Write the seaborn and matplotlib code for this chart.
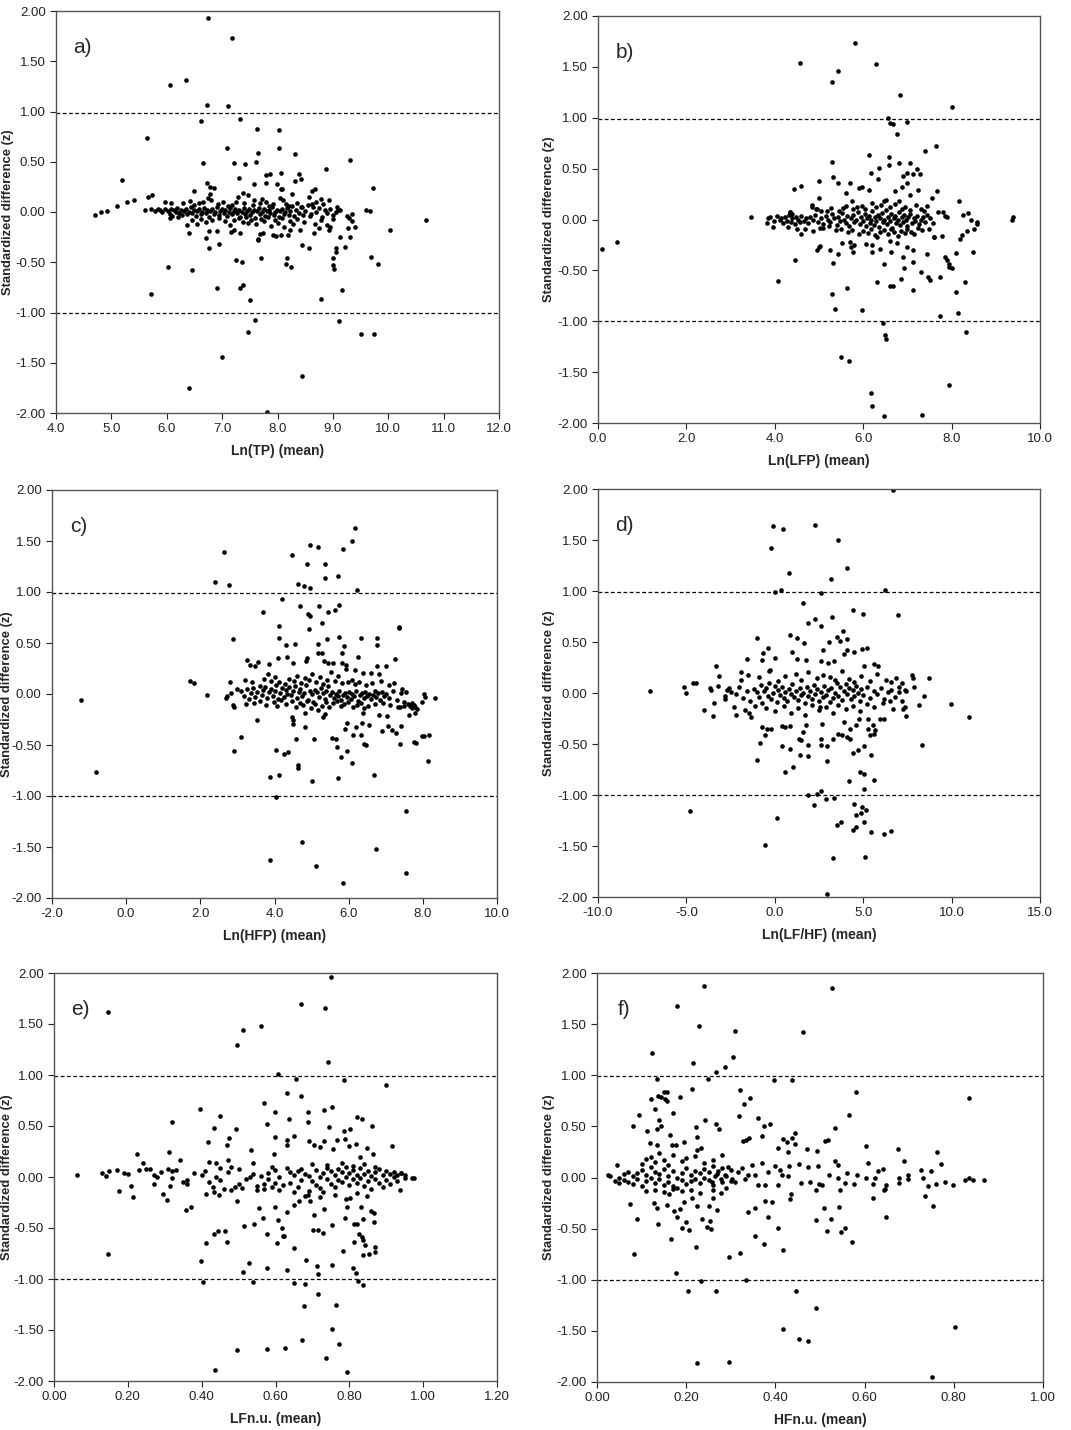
import numpy as np
import pandas as pd
import matplotlib
matplotlib.use("Agg")
import matplotlib.pyplot as plt
import seaborn as sns
from matplotlib.ticker import FormatStrFormatter

# ---- panel a: Ln(TP) ----
a_pts = [
    (6.75, 1.93), (7.18, 1.73), (6.35, 1.31), (6.05, 1.26), (6.73, 1.06), (7.10, 1.05), (7.32, 0.93),
    (6.61, 0.91), (5.64, 0.74), (7.63, 0.83), (8.03, 0.82), (7.08, 0.64), (8.03, 0.64), (7.65, 0.59),
    (8.32, 0.58), (9.31, 0.52), (6.66, 0.49), (7.21, 0.49), (7.41, 0.48), (7.62, 0.50), (8.87, 0.43),
    (5.20, 0.32), (8.06, 0.39), (8.39, 0.38), (7.79, 0.37), (7.87, 0.38), (7.31, 0.34), (8.31, 0.31),
    (8.42, 0.33), (6.72, 0.29), (7.57, 0.28), (7.80, 0.29), (7.99, 0.28), (9.73, 0.24), (6.79, 0.25),
    (6.86, 0.24), (7.38, 0.19), (6.49, 0.21), (5.73, 0.17), (5.66, 0.15), (5.41, 0.12), (5.29, 0.10),
    (5.11, 0.06), (4.92, 0.01), (4.82, 0.00), (4.70, -0.03), (5.96, 0.10), (6.08, 0.09), (8.06, 0.23),
    (8.09, 0.23), (8.27, 0.18), (8.63, 0.21), (8.67, 0.23), (8.79, 0.13), (8.93, 0.12), (9.07, 0.05),
    (9.59, 0.02), (9.67, 0.01), (10.69, -0.08), (10.04, -0.18), (9.81, -0.52), (9.69, -0.45),
    (9.50, -1.21), (9.74, -1.21), (9.11, -1.08), (9.16, -0.78), (8.79, -0.87), (9.01, -0.46),
    (9.02, -0.57), (9.01, -0.53), (9.05, -0.36), (9.06, -0.40), (9.22, -0.35), (9.31, -0.25),
    (9.12, -0.25), (9.27, -0.16), (9.40, -0.15), (8.44, -0.33), (8.57, -0.36), (8.18, -0.46),
    (8.15, -0.52), (8.25, -0.55), (8.44, -1.63), (7.81, -1.99), (7.59, -1.07), (7.47, -1.19),
    (7.50, -0.88), (7.38, -0.73), (7.32, -0.76), (7.36, -0.50), (7.25, -0.48), (7.71, -0.46),
    (6.99, -1.44), (6.41, -1.75), (6.90, -0.76), (6.46, -0.58), (6.02, -0.55), (5.72, -0.82),
    (6.76, -0.36), (6.94, -0.32), (6.70, -0.26), (6.90, -0.19), (6.76, -0.19), (6.41, -0.21),
    (6.36, -0.13), (7.64, -0.28), (7.65, -0.27), (7.98, -0.24), (7.92, -0.23), (8.19, -0.23),
    (8.06, -0.23), (7.68, -0.22), (7.74, -0.21), (7.16, -0.20), (7.22, -0.18), (7.32, -0.21),
    (7.47, -0.11), (8.23, -0.18), (8.41, -0.18), (8.66, -0.21), (8.75, -0.16), (8.93, -0.18),
    (8.95, -0.15),
    (5.60, 0.02), (5.72, 0.03), (5.78, 0.01), (5.84, 0.03), (5.88, 0.02), (5.92, 0.00), (5.97, 0.03),
    (6.02, 0.01), (6.05, -0.02), (6.08, 0.03), (6.10, -0.04), (6.13, 0.02), (6.16, 0.00), (6.19, 0.04),
    (6.22, -0.01), (6.25, 0.02), (6.28, -0.03), (6.31, 0.01), (6.34, 0.03), (6.37, -0.02), (6.40, 0.00),
    (6.43, 0.05), (6.46, -0.01), (6.49, 0.02), (6.52, -0.04), (6.55, 0.01), (6.58, 0.03), (6.61, -0.02),
    (6.64, 0.00), (6.67, 0.04), (6.70, -0.01), (6.73, 0.02), (6.76, -0.05), (6.79, 0.01), (6.82, 0.03),
    (6.85, -0.02), (6.88, 0.00), (6.91, 0.05), (6.94, -0.03), (6.97, 0.01), (7.00, 0.03), (7.03, -0.01),
    (7.06, 0.02), (7.09, -0.04), (7.12, 0.00), (7.15, 0.04), (7.18, -0.02), (7.21, 0.01), (7.24, 0.03),
    (7.27, -0.01), (7.30, 0.02), (7.33, -0.05), (7.36, 0.00), (7.39, 0.04), (7.42, -0.02), (7.45, 0.01),
    (7.48, 0.03), (7.51, -0.03), (7.54, 0.00), (7.57, 0.02), (7.60, -0.06), (7.63, 0.01), (7.66, 0.04),
    (7.69, -0.02), (7.72, 0.00), (7.75, 0.03), (7.78, -0.04), (7.81, 0.01), (7.84, 0.02), (7.87, -0.01),
    (7.90, 0.05), (7.93, -0.03), (7.96, 0.00), (7.99, 0.02), (8.02, -0.05), (8.05, 0.01), (8.08, 0.03),
    (8.11, -0.02), (8.14, 0.00), (8.17, 0.04), (8.20, -0.03), (8.23, 0.01), (8.26, 0.06), (8.30, -0.04),
    (8.34, 0.02), (8.38, -0.01), (8.42, 0.05), (8.46, -0.03), (8.50, 0.01), (8.55, 0.07), (8.60, -0.02),
    (8.65, 0.05), (8.70, 0.00), (8.75, 0.04), (8.80, -0.05), (8.85, 0.02), (8.90, -0.01), (8.95, 0.03),
    (9.00, -0.07), (9.05, 0.00), (9.10, 0.02), (9.25, -0.04), (9.30, -0.06), (9.35, -0.02),
    (6.30, 0.09), (6.42, 0.11), (6.50, 0.07), (6.58, 0.09), (6.65, 0.10), (6.75, 0.14), (6.78, 0.18),
    (6.80, 0.12), (6.92, 0.08), (7.02, 0.10), (7.10, 0.06), (7.18, 0.07), (7.25, 0.10), (7.28, 0.15),
    (7.40, 0.09), (7.46, 0.17), (7.55, 0.07), (7.58, 0.12), (7.68, 0.09), (7.72, 0.13), (7.80, 0.10),
    (7.85, 0.06), (7.92, 0.08), (8.05, 0.14), (8.10, 0.12), (8.15, 0.08), (8.20, 0.06), (8.35, 0.09),
    (8.45, 0.05), (8.56, 0.15), (8.62, 0.08), (8.70, 0.10), (8.83, 0.08), (9.12, 0.02),
    (6.05, -0.06), (6.20, -0.05), (6.45, -0.08), (6.55, -0.12), (6.62, -0.07), (6.70, -0.10),
    (6.82, -0.08), (6.95, -0.06), (7.05, -0.09), (7.15, -0.13), (7.22, -0.08), (7.30, -0.06),
    (7.38, -0.10), (7.44, -0.05), (7.52, -0.08), (7.62, -0.12), (7.70, -0.07), (7.76, -0.09),
    (7.82, -0.05), (7.88, -0.14), (7.95, -0.08), (8.00, -0.11), (8.08, -0.06), (8.12, -0.15),
    (8.22, -0.09), (8.28, -0.12), (8.36, -0.07), (8.48, -0.10), (8.58, -0.04), (8.68, -0.12),
    (8.78, -0.08), (8.90, -0.13), (9.00, -0.03), (9.35, -0.09),
]

# ---- panel b: Ln(LFP) ----
b_pts = [
    (5.81, 1.73), (4.58, 1.54), (6.29, 1.53), (5.42, 1.46), (5.29, 1.35), (6.84, 1.22), (8.02, 1.11),
    (6.55, 1.00), (6.60, 0.95), (6.68, 0.94), (6.99, 0.96), (6.77, 0.84), (7.65, 0.72), (7.40, 0.67),
    (6.12, 0.63), (6.59, 0.61), (5.30, 0.57), (6.82, 0.56), (7.05, 0.56), (6.58, 0.54), (6.36, 0.51),
    (7.21, 0.50), (5.32, 0.42), (6.17, 0.46), (7.00, 0.46), (6.89, 0.43), (7.13, 0.45), (7.28, 0.45),
    (6.33, 0.40), (4.99, 0.38), (5.43, 0.36), (5.71, 0.36), (4.60, 0.33), (4.43, 0.30), (5.91, 0.31),
    (5.98, 0.32), (6.99, 0.36), (6.87, 0.32), (5.61, 0.26), (6.12, 0.29), (6.71, 0.28), (7.25, 0.29),
    (7.67, 0.28), (7.07, 0.24), (7.55, 0.21), (5.00, 0.21), (8.17, 0.18), (5.74, 0.18),
    (0.10, -0.29), (0.44, -0.22), (3.46, 0.02), (9.37, 0.00), (9.40, 0.02), (8.57, -0.02),
    (8.58, -0.04), (8.37, 0.06), (8.44, 0.00), (8.26, 0.04), (8.51, -0.09), (8.35, -0.11),
    (8.24, -0.15), (8.20, -0.19), (8.48, -0.32), (8.09, -0.33), (7.86, -0.37), (7.89, -0.40),
    (7.93, -0.44), (7.95, -0.47), (8.01, -0.48), (8.30, -0.61), (8.10, -0.71), (8.15, -0.92),
    (8.32, -1.11), (7.93, -1.63), (7.74, -0.95), (7.74, -0.57), (7.79, -0.16), (7.61, -0.17),
    (7.44, -0.34), (7.47, -0.57), (7.51, -0.59), (7.30, -0.52), (7.34, -1.92), (7.12, -0.69),
    (7.13, -0.42), (7.13, -0.30), (7.00, -0.27), (6.89, -0.37), (6.93, -0.48), (6.85, -0.58),
    (6.76, -0.23), (6.64, -0.32), (6.60, -0.65), (6.68, -0.65), (6.60, -0.21), (6.37, -0.29),
    (6.46, -0.44), (6.32, -0.61), (6.21, -0.32), (6.20, -0.25), (6.06, -0.24), (6.45, -1.02),
    (6.49, -1.14), (6.52, -1.17), (6.18, -1.71), (6.20, -1.83), (6.48, -1.93), (5.98, -0.89),
    (5.68, -1.39), (5.49, -1.35), (5.63, -0.67), (5.37, -0.88), (5.30, -0.73), (5.31, -0.43),
    (5.43, -0.34), (5.25, -0.30), (5.03, -0.26), (5.00, -0.27), (4.96, -0.30), (5.52, -0.23),
    (5.70, -0.22), (5.72, -0.27), (5.77, -0.32), (5.80, -0.25), (4.08, -0.60), (4.45, -0.40),
    (4.60, -0.14), (4.87, -0.11), (4.51, -0.09), (5.02, -0.08), (3.97, -0.07), (3.83, -0.03),
    (3.85, 0.01), (4.15, 0.01), (4.34, 0.07), (4.38, 0.05), (4.85, 0.14), (4.93, 0.10), (5.18, 0.08),
    (3.90, 0.02), (3.98, -0.01), (4.05, 0.03), (4.12, 0.00), (4.18, -0.03), (4.22, 0.02), (4.28, -0.01),
    (4.32, 0.04), (4.36, -0.02), (4.40, 0.01), (4.45, -0.04), (4.48, 0.02), (4.52, 0.00), (4.56, -0.02),
    (4.60, 0.03), (4.65, -0.01), (4.70, 0.01), (4.75, -0.03), (4.80, 0.02), (4.86, 0.00), (4.92, 0.04),
    (4.98, -0.02), (5.04, 0.01), (5.10, -0.04), (5.15, 0.03), (5.20, 0.00), (5.25, -0.02), (5.30, 0.05),
    (5.35, 0.01), (5.40, -0.05), (5.44, 0.02), (5.48, -0.01), (5.52, 0.06), (5.56, 0.00), (5.60, -0.03),
    (5.64, 0.03), (5.68, -0.06), (5.72, 0.01), (5.76, 0.04), (5.80, -0.02), (5.84, 0.00), (5.88, 0.07),
    (5.92, -0.04), (5.96, 0.02), (6.00, -0.01), (6.03, 0.05), (6.06, -0.06), (6.09, 0.01), (6.12, 0.03),
    (6.15, -0.03), (6.18, 0.00), (6.21, 0.08), (6.24, -0.05), (6.27, 0.02), (6.30, -0.01), (6.33, 0.04),
    (6.36, -0.07), (6.39, 0.01), (6.42, 0.06), (6.45, -0.02), (6.48, 0.00), (6.51, 0.09), (6.54, -0.04),
    (6.57, 0.02), (6.60, -0.01), (6.63, 0.05), (6.66, -0.08), (6.69, 0.01), (6.72, 0.03), (6.75, -0.03),
    (6.78, 0.00), (6.81, 0.07), (6.84, -0.05), (6.87, 0.02), (6.90, -0.02), (6.93, 0.04), (6.96, 0.00),
    (6.99, -0.06), (7.02, 0.02), (7.06, 0.05), (7.10, -0.03), (7.14, 0.01), (7.18, -0.01), (7.22, 0.03),
    (7.26, -0.04), (7.30, 0.00), (7.35, 0.02), (7.40, -0.02), (7.45, 0.04), (7.52, 0.01), (7.58, -0.03),
    (7.70, 0.07), (7.80, 0.07), (7.85, 0.03), (7.90, 0.02),
    (4.35, 0.07), (4.85, 0.12), (4.95, 0.10), (5.05, 0.08), (5.28, 0.11), (5.45, 0.08), (5.55, 0.11),
    (5.62, 0.13), (5.78, 0.10), (5.85, 0.12), (5.98, 0.13), (6.05, 0.10), (6.20, 0.16), (6.28, 0.12),
    (6.40, 0.14), (6.48, 0.18), (6.52, 0.19), (6.60, 0.12), (6.72, 0.15), (6.80, 0.18), (6.88, 0.10),
    (6.95, 0.12), (7.05, 0.09), (7.20, 0.14), (7.30, 0.10), (7.45, 0.13), (7.38, 0.08),
    (4.30, -0.07), (4.68, -0.09), (5.10, -0.08), (5.22, -0.06), (5.38, -0.10), (5.50, -0.09),
    (5.66, -0.12), (5.75, -0.10), (5.90, -0.14), (6.00, -0.11), (6.10, -0.13), (6.18, -0.09),
    (6.26, -0.15), (6.32, -0.17), (6.38, -0.12), (6.46, -0.10), (6.55, -0.14), (6.62, -0.09),
    (6.70, -0.12), (6.78, -0.16), (6.86, -0.11), (6.94, -0.13), (7.00, -0.09), (7.08, -0.12),
    (7.16, -0.14), (7.24, -0.08), (7.32, -0.10), (7.48, -0.09), (7.60, -0.17),
]

# ---- panel c: Ln(HFP) ----
c_pts = [
    (6.16, 1.63), (6.08, 1.50), (4.97, 1.46), (5.16, 1.44), (5.85, 1.42), (2.65, 1.39), (4.47, 1.36),
    (4.87, 1.27), (5.36, 1.27), (5.72, 1.16), (5.37, 1.14), (2.39, 1.10), (4.64, 1.08), (2.76, 1.07),
    (4.80, 1.06), (4.97, 1.04), (6.22, 1.02), (4.19, 0.93), (5.21, 0.86), (4.69, 0.86), (5.74, 0.87),
    (5.64, 0.82), (3.68, 0.80), (5.43, 0.80), (4.91, 0.78), (4.97, 0.76), (5.28, 0.70), (4.12, 0.67),
    (7.35, 0.65), (7.36, 0.66), (4.92, 0.64), (5.73, 0.56), (2.87, 0.54), (4.11, 0.55), (6.33, 0.55),
    (6.76, 0.55), (5.42, 0.54), (6.76, 0.48), (4.54, 0.49), (4.31, 0.48), (5.16, 0.49), (5.87, 0.47),
    (5.17, 0.40), (5.27, 0.40), (5.81, 0.40), (6.26, 0.36), (4.35, 0.36), (7.25, 0.34), (3.26, 0.33),
    (4.09, 0.35), (4.87, 0.35), (3.33, 0.28), (3.48, 0.27), (3.55, 0.31), (3.84, 0.29), (4.49, 0.30),
    (4.85, 0.32), (5.34, 0.32), (5.43, 0.30), (5.59, 0.30), (5.82, 0.30), (5.93, 0.28), (5.92, 0.25),
    (6.77, 0.27), (7.00, 0.27), (6.17, 0.24), (6.38, 0.21), (6.60, 0.21), (6.82, 0.20), (1.73, 0.13),
    (1.83, 0.11), (2.17, -0.01), (-1.22, -0.06), (-0.82, -0.76), (2.80, 0.12), (2.84, 0.01),
    (2.71, -0.02), (2.70, -0.04), (3.00, 0.05), (2.89, -0.11), (2.92, -0.13), (3.09, -0.42),
    (2.91, -0.56), (3.52, -0.25), (3.88, -0.81), (4.12, -0.79), (4.03, -0.55), (4.26, -0.59),
    (4.36, -0.57), (4.63, -0.70), (4.64, -0.73), (4.48, -0.23), (4.49, -0.25), (4.51, -0.29),
    (4.59, -0.44), (4.82, -0.32), (4.81, -0.19), (5.07, -0.44), (5.01, -0.85), (4.04, -1.01),
    (3.88, -1.63), (4.74, -1.45), (5.12, -1.69), (5.84, -1.85), (7.54, -1.15), (7.55, -1.75),
    (6.73, -1.52), (6.67, -0.79), (5.72, -0.82), (5.78, -0.62), (5.95, -0.56), (6.10, -0.68),
    (5.67, -0.44), (5.69, -0.52), (5.54, -0.43), (5.91, -0.34), (5.96, -0.28), (6.20, -0.32),
    (6.11, -0.40), (6.33, -0.40), (6.41, -0.49), (6.47, -0.50), (6.36, -0.28), (6.55, -0.30),
    (6.38, -0.19), (6.83, -0.21), (6.90, -0.36), (7.03, -0.22), (7.07, -0.31), (7.17, -0.35),
    (7.27, -0.38), (7.38, -0.49), (7.42, -0.31), (7.38, -0.13), (7.62, -0.21), (7.79, -0.19),
    (8.04, -0.41), (7.99, -0.41), (8.17, -0.40), (7.76, -0.47), (7.81, -0.48), (8.15, -0.66),
    (8.34, -0.04), (8.03, 0.00), (8.07, -0.03), (7.97, -0.08), (5.32, -0.23), (5.36, -0.20),
    (3.10, 0.03), (3.18, -0.02), (3.25, 0.05), (3.30, -0.05), (3.36, 0.01), (3.42, 0.06), (3.48, -0.03),
    (3.54, 0.02), (3.60, 0.08), (3.65, -0.01), (3.70, 0.04), (3.75, 0.07), (3.80, -0.04), (3.85, 0.02),
    (3.90, 0.05), (3.95, -0.02), (4.00, 0.03), (4.05, 0.09), (4.10, -0.05), (4.15, 0.01), (4.20, 0.06),
    (4.25, -0.03), (4.30, 0.04), (4.35, 0.00), (4.40, 0.07), (4.45, -0.01), (4.50, 0.03), (4.55, 0.08),
    (4.60, -0.04), (4.65, 0.02), (4.70, 0.05), (4.75, -0.02), (4.80, 0.01), (4.85, 0.09), (4.90, -0.06),
    (4.95, 0.03), (5.00, 0.00), (5.05, -0.08), (5.10, 0.04), (5.15, 0.02), (5.20, -0.03), (5.25, 0.06),
    (5.30, 0.01), (5.35, -0.05), (5.40, 0.03), (5.45, 0.08), (5.50, -0.01), (5.55, 0.02), (5.60, -0.04),
    (5.65, 0.00), (5.70, -0.02), (5.75, 0.03), (5.80, -0.06), (5.85, -0.01), (5.90, 0.01), (5.95, -0.03),
    (6.00, 0.02), (6.05, -0.05), (6.10, 0.00), (6.15, -0.02), (6.20, 0.03), (6.25, -0.07), (6.30, -0.01),
    (6.35, 0.01), (6.40, -0.04), (6.45, 0.02), (6.50, -0.02), (6.55, 0.00), (6.60, -0.05), (6.65, -0.01),
    (6.70, 0.03), (6.75, -0.03), (6.80, 0.01), (6.85, -0.06), (6.90, 0.02), (6.95, -0.02), (7.00, 0.00),
    (7.10, -0.04), (7.20, 0.03), (7.30, -0.06), (7.40, 0.01), (7.50, -0.08), (7.60, -0.10), (7.65, -0.12),
    (7.70, -0.14), (7.75, -0.11), (7.80, -0.13), (7.85, -0.15), (7.55, 0.02),
    (3.20, 0.14), (3.40, 0.12), (3.72, 0.15), (3.82, 0.20), (3.90, 0.13), (4.02, 0.17), (4.12, 0.12),
    (4.28, 0.10), (4.38, 0.15), (4.52, 0.13), (4.62, 0.18), (4.72, 0.11), (4.82, 0.16), (4.92, 0.14),
    (5.02, 0.20), (5.12, 0.12), (5.22, 0.17), (5.32, 0.10), (5.42, 0.14), (5.52, 0.22), (5.62, 0.13),
    (5.72, 0.18), (5.82, 0.11), (5.98, 0.12), (6.08, 0.14), (6.18, 0.10), (6.28, 0.12), (6.48, 0.09),
    (6.62, 0.11), (6.88, 0.13), (7.08, 0.09), (7.22, 0.11), (7.45, 0.05),
    (3.22, -0.10), (3.45, -0.09), (3.62, -0.07), (3.78, -0.11), (3.98, -0.08), (4.08, -0.12),
    (4.18, -0.06), (4.32, -0.10), (4.48, -0.07), (4.58, -0.13), (4.68, -0.09), (4.78, -0.11),
    (4.88, -0.07), (4.98, -0.14), (5.08, -0.10), (5.18, -0.16), (5.28, -0.12), (5.38, -0.08),
    (5.48, -0.13), (5.58, -0.09), (5.68, -0.07), (5.78, -0.12), (5.88, -0.10), (5.98, -0.08),
    (6.12, -0.13), (6.22, -0.11), (6.32, -0.09), (6.42, -0.14), (6.52, -0.12), (6.72, -0.10),
    (6.92, -0.09), (7.12, -0.11), (7.32, -0.13), (7.48, -0.12), (7.72, -0.09),
]

# ---- panel d: Ln(LF/HF) ----
d_pts = [
    (6.70, 1.99), (-0.08, 1.64), (2.28, 1.65), (0.49, 1.61), (3.58, 1.50), (-0.21, 1.42), (4.09, 1.23),
    (0.79, 1.18), (3.17, 1.12), (6.23, 1.01), (0.36, 1.01), (0.00, 0.99), (2.64, 0.98), (1.62, 0.88),
    (4.40, 0.81), (6.98, 0.76), (5.00, 0.77), (3.26, 0.75), (2.25, 0.73), (1.89, 0.69), (2.60, 0.66),
    (3.85, 0.61), (0.85, 0.57), (4.06, 0.53), (3.51, 0.55), (-1.02, 0.54), (1.28, 0.54), (3.06, 0.50),
    (3.70, 0.51), (1.64, 0.49), (5.23, 0.44), (4.92, 0.43), (-0.38, 0.44), (2.74, 0.42), (-0.66, 0.39),
    (1.00, 0.40), (4.47, 0.40), (4.11, 0.42), (3.94, 0.38), (0.02, 0.34), (-1.57, 0.33), (1.26, 0.33),
    (-0.75, 0.32), (1.79, 0.32), (-3.32, 0.26), (-0.26, 0.23), (5.04, 0.26), (5.60, 0.28), (5.85, 0.26),
    (2.60, 0.31), (3.00, 0.29), (3.36, 0.31), (-3.13, 0.17), (-1.89, 0.21), (7.74, 0.18), (7.80, 0.15),
    (8.72, 0.15), (6.83, 0.15), (9.94, -0.11), (10.98, -0.24), (8.30, -0.51), (8.13, -0.12),
    (8.45, -0.03), (7.87, 0.06), (-7.08, 0.02), (-5.11, 0.06), (-5.00, 0.00), (-4.64, 0.10),
    (-4.43, 0.10), (-4.02, -0.17), (-3.68, 0.05), (-3.45, -0.10), (-3.47, -0.23), (-2.83, -0.06),
    (-2.32, -0.14), (-2.19, -0.22), (-2.70, 0.03), (-1.47, -0.20), (-1.32, -0.24), (-0.70, -0.33),
    (-0.57, -0.41), (-0.43, -0.35), (-0.21, -0.35), (-0.85, -0.49), (-1.02, -0.66), (-4.81, -1.16),
    (-0.53, -1.49), (0.15, -1.23), (0.40, -0.52), (0.60, -0.77), (0.85, -0.55), (1.04, -0.73),
    (0.40, -0.32), (0.60, -0.33), (0.85, -0.32), (1.42, -0.61), (1.38, -0.45), (1.51, -0.46),
    (1.85, -0.51), (1.89, -0.62), (1.62, -0.38), (1.77, -0.31), (1.85, -1.00), (2.19, -1.10),
    (2.40, -0.99), (2.60, -0.96), (2.92, -1.04), (3.34, -1.03), (2.98, -0.67), (2.62, -0.45),
    (2.60, -0.51), (2.98, -0.52), (3.30, -0.45), (3.49, -1.29), (3.77, -1.26), (3.32, -1.62),
    (2.98, -1.97), (4.19, -0.86), (4.45, -0.59), (4.68, -0.56), (4.47, -1.09), (4.57, -1.20),
    (4.85, -1.18), (4.60, -1.31), (4.43, -1.34), (4.83, -0.77), (5.04, -0.79), (5.06, -0.94),
    (5.17, -1.15), (4.94, -1.12), (5.06, -1.26), (5.43, -1.36), (5.09, -1.61), (6.15, -1.38),
    (6.58, -1.35), (5.62, -0.85), (5.43, -0.61), (5.60, -0.40), (5.64, -0.36), (5.53, -0.31),
    (5.28, -0.25), (5.28, -0.35), (5.04, -0.52), (5.38, -0.41), (4.75, -0.25), (4.57, -0.31),
    (4.25, -0.35), (4.11, -0.43), (4.28, -0.45), (3.81, -0.41), (3.55, -0.40), (3.91, -0.28),
    (2.68, -0.30), (2.55, -0.14), (7.34, -0.14), (7.42, -0.23), (7.25, -0.16), (6.70, -0.16),
    (6.19, -0.25), (5.96, -0.25), (7.17, -0.08), (7.04, 0.06), (7.36, 0.03),
    (-3.6, 0.03), (-3.2, 0.07), (-2.6, 0.05), (-2.5, 0.01), (-2.2, -0.01), (-2.0, 0.06), (-1.8, -0.05),
    (-1.6, 0.02), (-1.4, -0.08), (-1.2, 0.04), (-1.0, 0.01), (-0.9, -0.04), (-0.8, 0.08), (-0.7, -0.10),
    (-0.6, 0.02), (-0.5, 0.05), (-0.4, -0.03), (-0.3, 0.10), (-0.2, -0.06), (-0.1, 0.00), (0.0, 0.07),
    (0.1, -0.09), (0.2, 0.03), (0.3, -0.02), (0.4, 0.06), (0.5, -0.05), (0.6, 0.01), (0.7, -0.08),
    (0.8, 0.04), (0.9, -0.01), (1.0, 0.09), (1.1, -0.04), (1.2, 0.02), (1.3, -0.07), (1.4, 0.05),
    (1.5, -0.02), (1.6, 0.00), (1.7, -0.10), (1.8, 0.06), (1.9, -0.03), (2.0, 0.02), (2.1, -0.06),
    (2.2, 0.08), (2.3, -0.01), (2.4, 0.04), (2.5, -0.08), (2.6, 0.01), (2.7, -0.04), (2.8, 0.07),
    (2.9, -0.02), (3.0, 0.03), (3.1, -0.09), (3.2, 0.05), (3.3, -0.05), (3.4, 0.00), (3.5, 0.10),
    (3.6, -0.03), (3.7, 0.06), (3.8, -0.07), (3.9, 0.02), (4.0, 0.09), (4.1, -0.01), (4.2, 0.05),
    (4.3, -0.06), (4.4, 0.03), (4.5, -0.03), (4.6, 0.07), (4.7, 0.00), (4.8, -0.08), (4.9, 0.04),
    (5.0, -0.02), (5.2, 0.06), (5.4, -0.05), (5.6, 0.02), (5.8, -0.01), (6.0, 0.05), (6.2, -0.06),
    (6.4, 0.01), (6.6, 0.03), (6.8, -0.04), (7.0, 0.01), (7.2, 0.10), (7.4, 0.02),
    (-2.8, -0.03), (-1.9, 0.13), (-1.5, 0.18), (-0.9, 0.16), (-0.3, 0.22), (0.2, 0.12), (0.6, 0.17),
    (1.2, 0.19), (1.5, 0.13), (1.9, 0.21), (2.4, 0.15), (2.7, 0.18), (3.1, 0.16), (3.4, 0.13),
    (3.8, 0.22), (4.2, 0.14), (4.5, 0.11), (4.9, 0.17), (5.4, 0.12), (5.8, 0.19), (6.3, 0.13),
    (6.6, 0.11), (-1.7, -0.17), (-1.1, -0.13), (-0.5, -0.15), (0.0, -0.18), (0.5, -0.13), (0.9, -0.20),
    (1.3, -0.15), (1.7, -0.22), (2.1, -0.12), (2.5, -0.17), (2.9, -0.14), (3.3, -0.20), (3.6, -0.12),
    (4.0, -0.16), (4.4, -0.13), (4.8, -0.18), (5.2, -0.11), (5.6, -0.14), (6.1, -0.10), (6.5, -0.08),
]

# ---- panel e: LFn.u. ----
e_pts = [
    (0.751, 1.96), (0.670, 1.70), (0.733, 1.66), (0.147, 1.62), (0.561, 1.48), (0.511, 1.44),
    (0.497, 1.29), (0.743, 1.13), (0.608, 1.01), (0.655, 0.96), (0.785, 0.95), (0.900, 0.90),
    (0.632, 0.82), (0.670, 0.79), (0.570, 0.73), (0.396, 0.67), (0.754, 0.69), (0.732, 0.66),
    (0.598, 0.64), (0.689, 0.64), (0.451, 0.60), (0.822, 0.59), (0.835, 0.57), (0.637, 0.57),
    (0.320, 0.54), (0.688, 0.54), (0.576, 0.52), (0.861, 0.50), (0.745, 0.49), (0.434, 0.48),
    (0.494, 0.47), (0.803, 0.47), (0.786, 0.45), (0.789, 0.37), (0.767, 0.36), (0.600, 0.39),
    (0.649, 0.40), (0.474, 0.38), (0.631, 0.36), (0.690, 0.35), (0.732, 0.35), (0.418, 0.34),
    (0.818, 0.32), (0.631, 0.31), (0.703, 0.31), (0.468, 0.31), (0.800, 0.30), (0.916, 0.30),
    (0.721, 0.29), (0.757, 0.27), (0.847, 0.28), (0.534, 0.26), (0.311, 0.25), (0.224, 0.23),
    (0.595, 0.23), (0.863, 0.23), (0.830, 0.20), (0.063, 0.02), (0.145, -0.75), (0.175, -0.14),
    (0.215, -0.20), (0.208, -0.09), (0.295, -0.17), (0.305, -0.23), (0.358, -0.32), (0.372, -0.29),
    (0.314, -0.09), (0.413, -0.17), (0.434, -0.15), (0.447, -0.18), (0.496, -0.24), (0.399, -0.82),
    (0.403, -1.03), (0.412, -0.65), (0.434, -0.56), (0.445, -0.53), (0.464, -0.53), (0.468, -0.64),
    (0.436, -1.89), (0.497, -1.70), (0.511, -0.93), (0.515, -0.48), (0.528, -0.84), (0.540, -1.03),
    (0.543, -0.46), (0.554, -0.30), (0.567, -0.40), (0.576, -0.56), (0.577, -0.89), (0.576, -1.69),
    (0.599, -0.29), (0.608, -0.42), (0.605, -0.65), (0.617, -0.50), (0.620, -0.58), (0.624, -0.58),
    (0.631, -0.34), (0.632, -0.91), (0.625, -1.68), (0.649, -1.04), (0.649, -0.70), (0.649, -0.27),
    (0.664, -0.24), (0.671, -1.60), (0.676, -1.26), (0.679, -1.05), (0.683, -0.81), (0.687, -0.18),
    (0.694, -0.24), (0.703, -0.37), (0.701, -0.52), (0.714, -0.52), (0.712, -0.87), (0.714, -0.95),
    (0.714, -1.15), (0.728, -0.55), (0.736, -1.77), (0.731, -0.31), (0.752, -0.47), (0.752, -0.86),
    (0.754, -1.49), (0.764, -1.25), (0.773, -1.64), (0.794, -1.91), (0.782, -0.73), (0.789, -0.40),
    (0.809, -0.89), (0.818, -0.94), (0.824, -1.02), (0.838, -1.06), (0.813, -0.46), (0.822, -0.46),
    (0.813, -0.64), (0.827, -0.56), (0.833, -0.59), (0.838, -0.62), (0.842, -0.67), (0.836, -0.76),
    (0.854, -0.75), (0.870, -0.69), (0.870, -0.74), (0.866, -0.44), (0.859, -0.33), (0.868, -0.35),
    (0.849, -0.19), (0.832, -0.29), (0.837, -0.41), (0.795, -0.29), (0.802, -0.21), (0.938, -0.13),
    (0.974, -0.01), (0.950, 0.02), (0.940, 0.04),
    (0.13, 0.04), (0.14, 0.01), (0.15, 0.06), (0.17, 0.07), (0.19, 0.04), (0.20, 0.03), (0.23, 0.07),
    (0.24, 0.14), (0.25, 0.08), (0.26, 0.08), (0.27, -0.07), (0.27, 0.02), (0.28, 0.00), (0.29, 0.05),
    (0.31, 0.08), (0.32, -0.01), (0.32, 0.06), (0.33, 0.07), (0.34, 0.17), (0.35, -0.05), (0.36, -0.03),
    (0.36, -0.07), (0.38, 0.04), (0.40, 0.02), (0.41, 0.06), (0.42, -0.05), (0.42, 0.15), (0.43, -0.10),
    (0.44, 0.14), (0.44, 0.00), (0.45, -0.03), (0.45, 0.09), (0.46, -0.12), (0.47, 0.17), (0.47, 0.05),
    (0.48, 0.10), (0.48, -0.13), (0.49, -0.10), (0.50, 0.08), (0.50, -0.07), (0.51, -0.11), (0.52, -0.02),
    (0.53, 0.00), (0.54, 0.03), (0.54, 0.14), (0.55, -0.09), (0.55, -0.13), (0.56, 0.01), (0.57, -0.07),
    (0.57, -0.12), (0.58, 0.04), (0.58, -0.02), (0.59, 0.10), (0.59, -0.10), (0.60, 0.07), (0.60, -0.06),
    (0.61, 0.00), (0.61, -0.13), (0.62, -0.08), (0.63, 0.09), (0.64, -0.06), (0.64, 0.05), (0.65, 0.02),
    (0.65, -0.15), (0.66, 0.06), (0.66, -0.10), (0.67, -0.03), (0.67, 0.08), (0.68, 0.03), (0.68, -0.19),
    (0.69, 0.01), (0.69, -0.14), (0.70, 0.13), (0.70, -0.04), (0.71, 0.07), (0.71, -0.08), (0.72, 0.00),
    (0.72, -0.11), (0.73, 0.04), (0.73, -0.15), (0.74, 0.09), (0.74, -0.02), (0.75, 0.06), (0.75, -0.07),
    (0.76, 0.02), (0.76, -0.10), (0.77, 0.08), (0.77, -0.03), (0.78, 0.05), (0.78, -0.05), (0.79, 0.10),
    (0.79, 0.00), (0.80, -0.08), (0.80, 0.04), (0.81, 0.07), (0.81, -0.02), (0.82, 0.02), (0.82, -0.06),
    (0.83, 0.09), (0.83, -0.01), (0.84, 0.03), (0.84, -0.09), (0.85, 0.06), (0.85, -0.04), (0.86, 0.01),
    (0.86, -0.12), (0.87, 0.05), (0.87, -0.02), (0.88, 0.08), (0.88, -0.06), (0.89, 0.02), (0.89, -0.10),
    (0.90, 0.06), (0.90, -0.03), (0.91, 0.03), (0.91, -0.07), (0.92, 0.05), (0.92, 0.00), (0.93, -0.04),
    (0.93, 0.02), (0.94, 0.04), (0.95, -0.01), (0.97, -0.01), (0.74, 0.12), (0.78, 0.14), (0.81, 0.11),
    (0.84, 0.13), (0.87, 0.10), (0.72, -0.20), (0.76, -0.18), (0.79, -0.22), (0.82, -0.16),
]

# ---- panel f: HFn.u. ----
f_pts = [
    (0.240, 1.87), (0.527, 1.85), (0.180, 1.68), (0.229, 1.48), (0.309, 1.43), (0.463, 1.42),
    (0.124, 1.22), (0.305, 1.18), (0.216, 1.12), (0.287, 1.08), (0.267, 1.03), (0.249, 0.96),
    (0.135, 0.96), (0.397, 0.95), (0.437, 0.95), (0.214, 0.87), (0.320, 0.86), (0.581, 0.84),
    (0.150, 0.84), (0.158, 0.84), (0.137, 0.80), (0.144, 0.79), (0.185, 0.79), (0.122, 0.77),
    (0.833, 0.78), (0.343, 0.78), (0.152, 0.77), (0.158, 0.75), (0.329, 0.72), (0.129, 0.67),
    (0.170, 0.63), (0.095, 0.61), (0.566, 0.61), (0.318, 0.60), (0.360, 0.58), (0.138, 0.56),
    (0.243, 0.56), (0.267, 0.52), (0.387, 0.52), (0.081, 0.50), (0.144, 0.50), (0.374, 0.50),
    (0.222, 0.49), (0.273, 0.47), (0.533, 0.48), (0.112, 0.45), (0.134, 0.47), (0.443, 0.44),
    (0.164, 0.42), (0.340, 0.39), (0.335, 0.37), (0.418, 0.38), (0.438, 0.39), (0.370, 0.41),
    (0.225, 0.40), (0.511, 0.36), (0.517, 0.37), (0.327, 0.36), (0.427, 0.35), (0.445, 0.33),
    (0.195, 0.35), (0.118, 0.34), (0.135, 0.32), (0.168, 0.32), (0.177, 0.32), (0.603, 0.31),
    (0.674, 0.28), (0.233, 0.29), (0.224, 0.27), (0.405, 0.29), (0.470, 0.28), (0.493, 0.26),
    (0.428, 0.25), (0.762, 0.25), (0.689, 0.16), (0.608, 0.14), (0.771, 0.13), (0.044, 0.12),
    (0.024, 0.02), (0.073, -0.26), (0.089, -0.41), (0.082, -0.75), (0.135, -0.30), (0.137, -0.45),
    (0.128, -0.25), (0.162, -0.16), (0.158, -0.27), (0.165, -0.60), (0.172, -0.33), (0.177, -0.93),
    (0.180, -0.39), (0.186, -0.31), (0.190, -0.49), (0.196, -0.24), (0.199, -0.44), (0.203, -1.11),
    (0.206, -0.51), (0.212, -0.20), (0.221, -0.68), (0.224, -1.81), (0.225, -0.28), (0.234, -1.01),
    (0.236, -0.41), (0.246, -0.48), (0.251, -0.28), (0.255, -0.50), (0.254, -0.43), (0.267, -1.11),
    (0.270, -0.32), (0.259, -0.20), (0.279, -0.15), (0.295, -0.78), (0.297, -1.80), (0.321, -0.74),
    (0.334, -1.00), (0.339, -0.34), (0.355, -0.57), (0.355, -0.30), (0.375, -0.65), (0.376, -0.23),
    (0.384, -0.39), (0.393, -0.24), (0.406, -0.49), (0.418, -0.71), (0.418, -1.48), (0.432, -0.21),
    (0.435, -0.16), (0.446, -1.11), (0.454, -1.58), (0.472, -1.60), (0.490, -1.28), (0.492, -0.42),
    (0.508, -0.30), (0.525, -0.41), (0.516, -0.52), (0.543, -0.29), (0.548, -0.53), (0.555, -0.49),
    (0.571, -0.63), (0.545, -0.12), (0.648, -0.39), (0.643, -0.12), (0.618, -0.20), (0.736, -0.18),
    (0.754, -0.28), (0.751, -1.95), (0.803, -1.46),
    (0.868, -0.02), (0.843, -0.02), (0.835, 0.00), (0.826, -0.02), (0.799, -0.07), (0.781, -0.04),
    (0.759, -0.06), (0.749, 0.06), (0.742, -0.08), (0.731, 0.00), (0.726, 0.07), (0.698, -0.01),
    (0.698, 0.02), (0.678, -0.05), (0.678, 0.00), (0.648, -0.07), (0.646, -0.11), (0.641, 0.08),
    (0.631, 0.06), (0.623, 0.00), (0.618, -0.06), (0.603, 0.00), (0.584, 0.02), (0.577, -0.06),
    (0.560, 0.04), (0.556, -0.05), (0.540, 0.00), (0.540, 0.12), (0.534, 0.16), (0.520, 0.02),
    (0.505, -0.07), (0.498, -0.06), (0.496, 0.11), (0.491, -0.12), (0.478, -0.04), (0.472, 0.10),
    (0.457, -0.05), (0.453, 0.13), (0.430, 0.11), (0.429, 0.01), (0.414, 0.02), (0.411, 0.07),
    (0.405, -0.07), (0.399, 0.11), (0.384, 0.05), (0.376, -0.07), (0.369, 0.14), (0.360, -0.07),
    (0.354, 0.02), (0.347, 0.12), (0.339, 0.02), (0.332, -0.01), (0.324, 0.09), (0.317, 0.05),
    (0.309, -0.04), (0.302, -0.01), (0.294, 0.10), (0.287, 0.02), (0.279, -0.01), (0.272, 0.06),
    (0.264, 0.01), (0.257, -0.04),
    (0.03, 0.01), (0.04, -0.03), (0.05, 0.00), (0.05, -0.05), (0.06, 0.03), (0.06, -0.02), (0.07, 0.05),
    (0.07, -0.04), (0.08, 0.01), (0.08, -0.06), (0.09, 0.04), (0.09, -0.01), (0.10, 0.07), (0.10, -0.08),
    (0.11, 0.02), (0.11, -0.03), (0.12, 0.10), (0.12, 0.00), (0.13, -0.05), (0.13, 0.05), (0.14, -0.01),
    (0.14, 0.03), (0.15, -0.07), (0.15, 0.08), (0.16, 0.01), (0.16, -0.04), (0.17, 0.06), (0.17, -0.08),
    (0.18, 0.00), (0.18, -0.10), (0.19, 0.04), (0.19, -0.02), (0.20, 0.09), (0.20, -0.06), (0.21, 0.02),
    (0.21, -0.03), (0.22, 0.06), (0.22, -0.01), (0.23, 0.04), (0.23, -0.05), (0.24, 0.08), (0.24, 0.00),
    (0.25, -0.02), (0.25, 0.05), (0.26, 0.11), (0.26, -0.07), (0.27, 0.03), (0.28, -0.04), (0.28, 0.09),
    (0.29, 0.01), (0.30, 0.07), (0.30, -0.03),
    (0.10, 0.13), (0.11, 0.18), (0.12, 0.20), (0.13, 0.15), (0.14, 0.24), (0.15, 0.17), (0.16, 0.12),
    (0.17, 0.22), (0.19, 0.16), (0.20, 0.19), (0.22, 0.21), (0.24, 0.14), (0.26, 0.17), (0.28, 0.22),
    (0.11, -0.13), (0.13, -0.12), (0.15, -0.14), (0.17, -0.11), (0.19, -0.13), (0.21, -0.12),
    (0.23, -0.15), (0.26, -0.12), (0.29, -0.10),
]

panel_tags = ["a)", "b)", "c)", "d)", "e)", "f)"]
x_labels = ["Ln(TP) (mean)", "Ln(LFP) (mean)", "Ln(HFP) (mean)",
            "Ln(LF/HF) (mean)", "LFn.u. (mean)", "HFn.u. (mean)"]
x_limits = [(4, 12), (0, 10), (-2, 10), (-10, 15), (0, 1.2), (0, 1.0)]
x_steps = [1.0, 2.0, 2.0, 5.0, 0.2, 0.2]
x_formats = ["%.1f", "%.1f", "%.1f", "%.1f", "%.2f", "%.2f"]
upper_limit = 0.99
lower_limit = -1.0

sns.set_style("ticks")
plt.rcParams["font.family"] = ["Liberation Sans", "DejaVu Sans"]

fig = plt.figure(figsize=(10.71, 14.30), dpi=100)
W, H = 1071, 1430
# axes boxes in pixels: left, right, top, bottom
boxes = [(56, 499, 11, 413), (598, 1040, 16, 423),
         (52, 497, 490, 898), (598, 1040, 489, 897),
         (54, 497, 973, 1381), (597, 1043, 973, 1382)]
# right edge of the rotated y label, in pixels
ylabel_right = [14, 555, 13, 555, 13, 555]

all_pts = [a_pts, b_pts, c_pts, d_pts, e_pts, f_pts]

for i, pts in enumerate(all_pts):
    l, r, t, b = boxes[i]
    ax = fig.add_axes([l / W, 1 - b / H, (r - l) / W, (b - t) / H])
    df = pd.DataFrame(pts, columns=["mean", "z"])
    sns.scatterplot(data=df, x="mean", y="z", ax=ax, color="black",
                    s=11, linewidth=0, legend=False)
    lo, hi = x_limits[i]
    ax.axhline(upper_limit, color="black", linestyle=(0, (3, 2)), linewidth=0.9)
    ax.axhline(lower_limit, color="black", linestyle=(0, (3, 2)), linewidth=0.9)
    ax.set_xlim(lo, hi)
    ax.set_ylim(-2, 2)
    ax.set_xticks(np.arange(lo, hi + x_steps[i] / 2, x_steps[i]))
    ax.set_yticks(np.arange(-2, 2.01, 0.5))
    ax.xaxis.set_major_formatter(FormatStrFormatter(x_formats[i]))
    ax.yaxis.set_major_formatter(FormatStrFormatter("%.2f"))
    ax.tick_params(direction="out", length=4, width=0.8, labelsize=9.5,
                   colors="#222222", top=False, right=False)
    for sp in ax.spines.values():
        sp.set_visible(True)
        sp.set_color("#555555")
        sp.set_linewidth(1.0)
    ax.set_xlabel(x_labels[i], fontsize=10, fontweight="bold", labelpad=6)
    ax.set_ylabel("Standardized difference (z)", fontsize=9.4, fontweight="bold")
    ax.yaxis.set_label_coords((ylabel_right[i] - l) / (r - l), 0.5)
    ax.text(0.06, 0.91, panel_tags[i], transform=ax.transAxes, fontsize=15,
            ha="center", va="center")

fig.savefig("out.png", dpi=100)
